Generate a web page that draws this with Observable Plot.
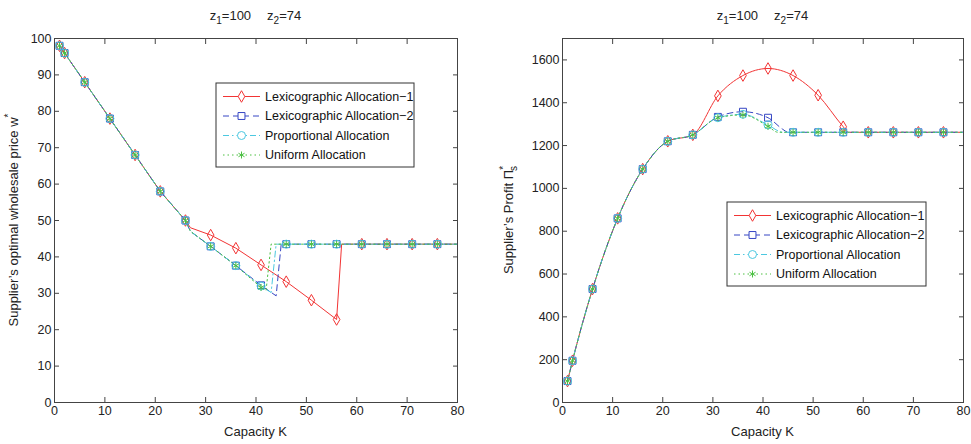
<!DOCTYPE html>
<html><head><meta charset="utf-8">
<script src="https://cdn.jsdelivr.net/npm/d3@7"></script>
<script src="https://cdn.jsdelivr.net/npm/@observablehq/plot@0.6"></script>
<style>
body{margin:0;background:#fff;}
#wrap{display:flex;width:971px;height:444px;overflow:hidden;}
svg{font-family:"Liberation Sans",Arial,Helvetica,sans-serif;overflow:visible;}
</style></head><body><div id="wrap"></div>
<script>
// ---------- data ----------
const markerK = [1,2,6,11,16,21,26,31,36,41,46,51,56,61,66,71,76];
const xTicks = [0,10,20,30,40,50,60,70,80];
const wTicks = [0,10,20,30,40,50,60,70,80,90,100];
const pTicks = [0,200,400,600,800,1000,1200,1400,1600];

// left panel: optimal wholesale price w*
const lex1WK = [1,2,6,11,16,21,26,27,31,36,41,46,51,56,57,61,66,71,76,80];
const lex1W  = [98,96,88,78,68,58,50,48,46,42.4,37.8,33.2,28.1,22.8,43.5,43.5,43.5,43.5,43.5,43.5];
const lex2WK = [1,2,6,11,16,21,26,27,31,36,41,44,45,46,51,56,61,66,71,76,80];
const lex2W  = [98,96,88,78,68,58,50,47,42.9,37.6,32.2,29.3,43.5,43.5,43.5,43.5,43.5,43.5,43.5,43.5,43.5];
const propWK = [1,2,6,11,16,21,26,27,31,36,41,43,44,46,51,56,61,66,71,76,80];
const propW  = [98,96,88,78,68,58,50,47,42.9,37.6,32,30.2,43.5,43.5,43.5,43.5,43.5,43.5,43.5,43.5,43.5];
const unifWK = [1,2,6,11,16,21,26,27,31,36,41,42,43,46,51,56,61,66,71,76,80];
const unifW  = [98,96,88,78,68,58,50,47,42.9,37.6,31.6,30.8,43.5,43.5,43.5,43.5,43.5,43.5,43.5,43.5,43.5];

// right panel: supplier's profit
const lex1PK = [1,2,6,11,16,21,26,31,36,41,46,51,56,57,61,66,71,76,80];
const lex1P  = [100,195,530,860,1090,1220,1250,1432,1527,1560,1527,1435,1288,1262,1262,1262,1262,1262,1262];
const lex2PK = [1,2,6,11,16,21,26,31,36,41,44,45,46,51,56,61,66,71,76,80];
const lex2P  = [100,195,530,860,1090,1220,1250,1334,1358,1330,1275,1262,1262,1262,1262,1262,1262,1262,1262,1262];
const propPK = [1,2,6,11,16,21,26,31,36,41,44,46,51,56,61,66,71,76,80];
const propP  = [100,195,530,860,1090,1220,1250,1330,1346,1296,1262,1262,1262,1262,1262,1262,1262,1262,1262];
const unifPK = [1,2,6,11,16,21,26,31,36,41,43,46,51,56,61,66,71,76,80];
const unifP  = [100,195,530,860,1090,1220,1250,1330,1343,1290,1262,1262,1262,1262,1262,1262,1262,1262,1262];

const seriesNames = ["Lexicographic Allocation\u22121","Lexicographic Allocation\u22122","Proportional Allocation","Uniform Allocation"];

// ---------- styles ----------
const styles = [
  {color:"#f23434", dash:null, symbol:"diamond", r:3.5, sw:1},
  {color:"#3646c4", dash:"6,4", symbol:"square", r:3.9, sw:1},
  {color:"#4cc8e0", dash:"6,3,1.5,3", symbol:"circle", r:4, sw:1},
  {color:"#4cc043", dash:"1.5,3", symbol:"asterisk", r:3.3, sw:1}
];
const symMap = {diamond:d3.symbolDiamond, square:d3.symbolSquare, circle:d3.symbolCircle, asterisk:d3.symbolAsterisk};
const FONT = '"Liberation Sans",Arial,sans-serif';

function toRows(K, V){ return K.map((k,i)=>({k, v:V[i]})); }

function panel({width, marginLeft, marginRight, yDomain, yTicks, sets, curve}){
  const marks = [];
  sets.forEach((rows, i) => {
    const s = styles[i];
    marks.push(Plot.line(rows, {x:"k", y:"v", stroke:s.color, strokeWidth:s.sw, strokeDasharray:s.dash, curve}));
  });
  sets.forEach((rows, i) => {
    const s = styles[i];
    marks.push(Plot.dot(rows.filter(d => markerK.includes(d.k)), {x:"k", y:"v", symbol:s.symbol, r:s.r, stroke:s.color, fill:"none", strokeWidth:1}));
  });
  return Plot.plot({
    width, height:444, marginLeft, marginRight, marginTop:38, marginBottom:42,
    style:{fontSize:"12.5px", fontFamily:FONT, color:"#222", background:"#fff"},
    x:{domain:[0,80]},
    y:{domain:yDomain},
    marks:[
      ...marks,
      Plot.frame({stroke:"#444", strokeWidth:1}),
      Plot.axisX({anchor:"bottom", ticks:xTicks, tickSize:-5, tickPadding:9, tickFormat:d3.format("d"), label:null, stroke:"#444"}),
      Plot.axisX({anchor:"top", ticks:xTicks, tickSize:-5, tickFormat:()=> "", label:null, stroke:"#444"}),
      Plot.axisY({anchor:"left", ticks:yTicks, tickSize:-5, tickPadding:8, tickFormat:d3.format("d"), label:null, stroke:"#444"}),
      Plot.axisY({anchor:"right", ticks:yTicks, tickSize:-5, tickFormat:()=> "", label:null, stroke:"#444"})
    ]
  });
}

function decorate(svgNode, o){
  const svg = d3.select(svgNode);
  // title
  const t = svg.append("text").attr("x", o.cx).attr("y", 20).attr("text-anchor","middle")
    .attr("font-size", 13).attr("font-family", FONT).attr("fill","#222");
  t.append("tspan").text("z");
  t.append("tspan").attr("dy", 4).attr("font-size", 10).text("1");
  t.append("tspan").attr("dy", -4).text("=100");
  t.append("tspan").attr("dx", 16).text("z");
  t.append("tspan").attr("dy", 4).attr("font-size", 10).text("2");
  t.append("tspan").attr("dy", -4).text("=74");
  // x label
  svg.append("text").attr("x", o.cx).attr("y", 436).attr("text-anchor","middle")
    .attr("font-size", 13).attr("font-family", FONT).attr("fill","#222").text("Capacity K");
  // y label
  const yl = svg.append("text").attr("transform", `translate(${o.ylx},220) rotate(-90)`).attr("text-anchor","middle")
    .attr("font-size", 13).attr("font-family", FONT).attr("fill","#222");
  o.ylabel(yl);
  // legend
  const L = o.legend;
  svg.append("rect").attr("x", L.x).attr("y", L.y).attr("width", L.w).attr("height", L.h)
    .attr("fill","#fff").attr("stroke","#333").attr("stroke-width",1);
  seriesNames.forEach((name, i) => {
    const s = styles[i];
    const ry = L.y + 13.5 + i*19.5;
    svg.append("line").attr("x1", L.x+7).attr("x2", L.x+44).attr("y1", ry).attr("y2", ry)
      .attr("stroke", s.color).attr("stroke-width", s.sw).attr("stroke-dasharray", s.dash);
    svg.append("path").attr("d", d3.symbol(symMap[s.symbol], Math.PI*s.r*s.r)())
      .attr("transform", `translate(${L.x+25.5},${ry})`).attr("fill", s.symbol==="asterisk"?"none":"#fff")
      .attr("stroke", s.color).attr("stroke-width",1);
    svg.append("text").attr("x", L.x+49).attr("y", ry).attr("dy","0.35em").attr("text-anchor","start")
      .attr("font-size", 12.5).attr("font-family", FONT).attr("fill","#111").text(name);
  });
}

const left = panel({
  width:485, marginLeft:54, marginRight:28, yDomain:[0,100], yTicks:wTicks, curve:"linear",
  sets:[toRows(lex1WK,lex1W), toRows(lex2WK,lex2W), toRows(propWK,propW), toRows(unifWK,unifW)]
});
const right = panel({
  width:486, marginLeft:77, marginRight:8, yDomain:[0,1700], yTicks:pTicks, curve:"monotone-x",
  sets:[toRows(lex1PK,lex1P), toRows(lex2PK,lex2P), toRows(propPK,propP), toRows(unifPK,unifP)]
});
document.getElementById("wrap").append(left, right);

decorate(left, {cx:255.5, ylx:18, legend:{x:216, y:83, w:198, h:84},
  ylabel: yl => { yl.append("tspan").text("Supplier\u2019s optimal wholesale price w");
                  yl.append("tspan").attr("dy",-6).attr("font-size",10).text("*"); }});
decorate(right, {cx:277.5, ylx:28, legend:{x:242, y:202, w:199, h:84},
  ylabel: yl => { yl.append("tspan").text("Supplier\u2019s Profit \u03A0");
                  yl.append("tspan").attr("dy",-6).attr("font-size",10).text("*");
                  yl.append("tspan").attr("dy",10).attr("dx",-5).attr("font-size",10).text("s"); }});
</script></body></html>
